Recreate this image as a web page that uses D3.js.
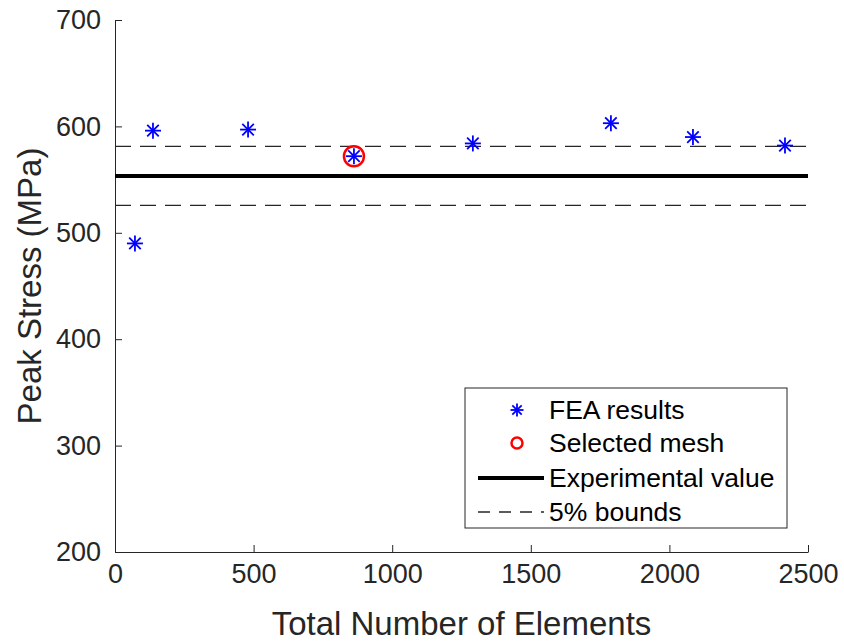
<!DOCTYPE html>
<html>
<head>
<meta charset="utf-8">
<style>
  body { margin: 0; background: #fff; }
  text { font-family: Arial, "Liberation Sans", sans-serif; fill: #262626; }
  .axis path, .axis line { stroke: #262626; stroke-width: 1; }
</style>
</head>
<body>
<svg width="844" height="642"></svg>
<script src="https://d3js.org/d3.v7.min.js"></script>
<script>
// mesh convergence data
var elements = [72, 137, 480, 862, 1291, 1789, 2085, 2417];
var peakStress = [490, 596, 597, 572, 584, 603, 590, 582];
var selectedIdx = 3;
var experimental = 553.5;
var bounds = [experimental * 1.05, experimental * 0.95];
var xTicks = [0, 500, 1000, 1500, 2000, 2500];
var yTicks = [200, 300, 400, 500, 600, 700];
var legendLabels = ["FEA results", "Selected mesh", "Experimental value", "5% bounds"];

var margin = {top: 20, right: 36, bottom: 90, left: 115},
    width = 808 - margin.left,
    height = 552 - margin.top;

var svg = d3.select("svg")
  .append("g")
  .attr("transform", "translate(" + margin.left + "," + margin.top + ")");

var x = d3.scaleLinear().domain([0, 2500]).range([0, width]);
var y = d3.scaleLinear().domain([200, 700]).range([height, 0]);

// axes (MATLAB style: inward ticks)
var xAxis = svg.append("g")
  .attr("class", "axis")
  .attr("transform", "translate(0," + height + ")")
  .call(d3.axisBottom(x).tickValues(xTicks).tickFormat(d3.format("d"))
    .tickSize(-7).tickSizeOuter(0).tickPadding(12));
xAxis.selectAll("text").style("font-size", "27px").style("fill", "#262626");

var yAxis = svg.append("g")
  .attr("class", "axis")
  .call(d3.axisLeft(y).tickValues(yTicks).tickFormat(d3.format("d"))
    .tickSize(-7).tickSizeOuter(0).tickPadding(14));
yAxis.selectAll("text").style("font-size", "27px").style("fill", "#262626");

svg.append("text")
  .attr("x", width / 2)
  .attr("y", height + 83)
  .attr("text-anchor", "middle")
  .style("font-size", "33px")
  .text("Total Number of Elements");

svg.append("text")
  .attr("transform", "translate(-74," + (height / 2) + ") rotate(-90)")
  .attr("text-anchor", "middle")
  .style("font-size", "33px")
  .text("Peak Stress (MPa)");

// reference lines
svg.append("line")
  .attr("x1", x(0)).attr("x2", x(2500))
  .attr("y1", y(experimental)).attr("y2", y(experimental))
  .attr("stroke", "#000").attr("stroke-width", 4);

svg.selectAll(".bound")
  .data(bounds)
  .enter().append("line")
  .attr("class", "bound")
  .attr("x1", x(0)).attr("x2", x(2500))
  .attr("y1", function(d) { return y(d); })
  .attr("y2", function(d) { return y(d); })
  .attr("stroke", "#262626").attr("stroke-width", 1.3)
  .attr("stroke-dasharray", "16,9");

// star marker
function star(g, cx, cy, s) {
  var r = s / 2, d = r * 0.72;
  var segs = [[-r, 0, r, 0], [0, -r, 0, r], [-d, -d, d, d], [-d, d, d, -d]];
  segs.forEach(function(p) {
    g.append("line")
      .attr("x1", cx + p[0]).attr("y1", cy + p[1])
      .attr("x2", cx + p[2]).attr("y2", cy + p[3])
      .attr("stroke", "#0000ff").attr("stroke-width", 1.8);
  });
}

var pts = svg.append("g");
elements.forEach(function(e, i) {
  star(pts, x(e), y(peakStress[i]), 16);
});

svg.append("circle")
  .attr("cx", x(elements[selectedIdx]))
  .attr("cy", y(peakStress[selectedIdx]))
  .attr("r", 10)
  .attr("fill", "none")
  .attr("stroke", "#ff0000")
  .attr("stroke-width", 2.5);

// legend
var lg = svg.append("g").attr("transform", "translate(" + (465 - margin.left) + "," + (388 - margin.top) + ")");
lg.append("rect")
  .attr("width", 322).attr("height", 140)
  .attr("fill", "#fff").attr("stroke", "#262626").attr("stroke-width", 1);

var rowY = [22, 55, 90, 124];
star(lg, 52, rowY[0], 13);
lg.append("circle").attr("cx", 52).attr("cy", rowY[1]).attr("r", 5.5)
  .attr("fill", "none").attr("stroke", "#ff0000").attr("stroke-width", 2.5);
lg.append("line").attr("x1", 13).attr("x2", 79).attr("y1", rowY[2]).attr("y2", rowY[2])
  .attr("stroke", "#000").attr("stroke-width", 4);
lg.append("line").attr("x1", 13).attr("x2", 79).attr("y1", rowY[3]).attr("y2", rowY[3])
  .attr("stroke", "#262626").attr("stroke-width", 1.3).attr("stroke-dasharray", "12,9");

legendLabels.forEach(function(t, i) {
  lg.append("text")
    .attr("x", 84).attr("y", rowY[i])
    .attr("dy", "0.35em")
    .style("font-size", "26.5px")
    .style("fill", "#000")
    .text(t);
});
</script>
</body>
</html>
